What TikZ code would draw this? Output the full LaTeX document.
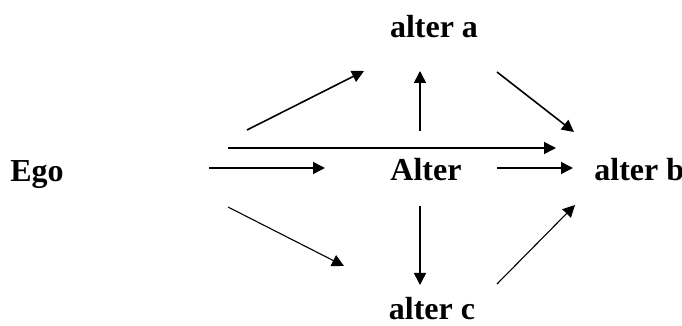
\documentclass[tikz,border=0pt]{standalone}
\usepackage{fontspec}
\setmainfont{Liberation Serif}
\usetikzlibrary{arrows.meta}
\begin{document}
\begin{tikzpicture}[x=0.5pt,y=-0.5pt,
  lbl/.style={anchor=base,inner sep=0pt,font=\fontsize{16}{19}\selectfont\bfseries},
  arr/.style={-{Triangle[length=6pt,width=6pt]},line width=0.8pt},
  thin arr/.style={arr,line width=0.55pt}]
\useasboundingbox (0,0) rectangle (682,326);
\node[lbl] (ego) at (37,182) {Ego};
\node[lbl] (alter) at (426,181) {Alter};
\node[lbl] (altera) at (434,38) {alter a};
\node[lbl,anchor=base west] (alterb) at (594,181) {alter b};
\node[lbl] (alterc) at (432,320) {alter c};
% endpoints
\coordinate (e1s) at (247,130); \coordinate (e1t) at (364,71);
\coordinate (e2s) at (228,148); \coordinate (e2t) at (556,148);
\coordinate (e3s) at (209,168); \coordinate (e3t) at (325,168);
\coordinate (e4s) at (228,207); \coordinate (e4t) at (344,266);
\coordinate (a1s) at (420,131); \coordinate (a1t) at (420,71);
\coordinate (a2s) at (497,72);  \coordinate (a2t) at (574,132);
\coordinate (a3s) at (497,168); \coordinate (a3t) at (573,168);
\coordinate (a4s) at (420,206); \coordinate (a4t) at (420,285);
\coordinate (a5s) at (497,284); \coordinate (a5t) at (575,205);
\draw[arr] (e1s) -- (e1t);
\draw[arr] (e2s) -- (e2t);
\draw[arr] (e3s) -- (e3t);
\draw[thin arr] (e4s) -- (e4t);
\draw[arr] (a1s) -- (a1t);
\draw[arr] (a2s) -- (a2t);
\draw[arr] (a3s) -- (a3t);
\draw[arr] (a4s) -- (a4t);
\draw[thin arr] (a5s) -- (a5t);
\end{tikzpicture}
\end{document}
